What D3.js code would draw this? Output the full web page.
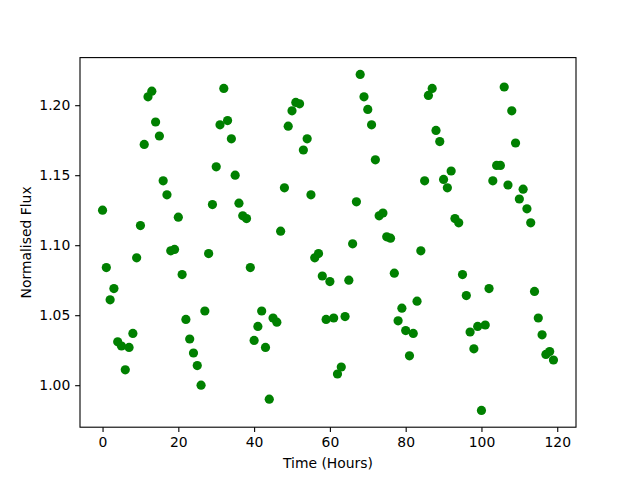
<!DOCTYPE html>
<html>
<head>
<meta charset="utf-8">
<script src="https://cdn.jsdelivr.net/npm/d3@7"></script>
<style>
  body { margin: 0; background: #fff; }
  text { font-family: "DejaVu Sans", sans-serif; }
</style>
</head>
<body>
<div id="chart"></div>
<script>
// hours 0..119, one reading per hour
const hours = d3.range(0, 120);
const flux = [
  1.125, 1.084, 1.061, 1.069, 1.031, 1.028, 1.011, 1.027, 1.037, 1.091,
  1.114, 1.172, 1.206, 1.210, 1.188, 1.178, 1.146, 1.136, 1.096, 1.097,
  1.120, 1.079, 1.047, 1.033, 1.023, 1.014, 1.000, 1.053, 1.094, 1.129,
  1.156, 1.186, 1.212, 1.189, 1.176, 1.150, 1.130, 1.121, 1.119, 1.084,
  1.032, 1.042, 1.053, 1.027, 0.990, 1.048, 1.045, 1.110, 1.141, 1.185,
  1.196, 1.202, 1.201, 1.168, 1.176, 1.136, 1.091, 1.094, 1.078, 1.047,
  1.074, 1.048, 1.008, 1.013, 1.049, 1.075, 1.101, 1.131, 1.222, 1.206,
  1.197, 1.186, 1.161, 1.121, 1.123, 1.106, 1.105, 1.080, 1.046, 1.055,
  1.039, 1.021, 1.037, 1.060, 1.096, 1.146, 1.207, 1.212, 1.182, 1.174,
  1.147, 1.141, 1.153, 1.119, 1.116, 1.079, 1.064, 1.038, 1.026, 1.042,
  0.982, 1.043, 1.069, 1.146, 1.157, 1.157, 1.213, 1.143, 1.196, 1.173,
  1.133, 1.140, 1.126, 1.116, 1.067, 1.048, 1.036, 1.022, 1.024, 1.018
];
const xTicks = [0, 20, 40, 60, 80, 100, 120];
const yTicks = [1.00, 1.05, 1.10, 1.15, 1.20];

const W = 640, H = 480;
const margin = { top: 57.6, right: 64, bottom: 52.8, left: 80 };
const width = W - margin.left - margin.right;
const height = H - margin.top - margin.bottom;

// matplotlib-like 5% padding on the data range
function padded(ext) {
  const p = (ext[1] - ext[0]) * 0.05;
  return [ext[0] - p, ext[1] + p];
}

const svg = d3.select('#chart').append('svg')
  .attr('width', W)
  .attr('height', H);

const g = svg.append('g')
  .attr('transform', `translate(${margin.left},${margin.top})`);

const x = d3.scaleLinear()
  .domain(padded(d3.extent(hours)))
  .range([0, width]);

const y = d3.scaleLinear()
  .domain(padded(d3.extent(flux)))
  .range([height, 0]);

const tickLen = 4.86;

const xAxis = g.append('g')
  .attr('transform', `translate(0,${height})`)
  .call(d3.axisBottom(x).tickValues(xTicks).tickFormat(d3.format('d'))
    .tickSize(tickLen).tickPadding(4.9));
xAxis.select('.domain').remove();

const yAxis = g.append('g')
  .call(d3.axisLeft(y).tickValues(yTicks).tickFormat(d3.format('.2f'))
    .tickSize(tickLen).tickPadding(4.9));
yAxis.select('.domain').remove();

[xAxis, yAxis].forEach(a => {
  a.selectAll('text').style('font-size', '13.9px').attr('fill', '#000');
  a.selectAll('line').attr('stroke', '#000').attr('stroke-width', 1.1);
});

// points
g.selectAll('circle.pt')
  .data(hours)
  .enter()
  .append('circle')
  .attr('class', 'pt')
  .attr('cx', (d, i) => x(d))
  .attr('cy', (d, i) => y(flux[i]))
  .attr('r', 4.6)
  .style('fill', 'green');

// frame
g.append('rect')
  .attr('width', width)
  .attr('height', height)
  .attr('fill', 'none')
  .attr('stroke', '#000')
  .attr('stroke-width', 1.1);

svg.append('text')
  .attr('x', margin.left + width / 2)
  .attr('y', 468)
  .attr('text-anchor', 'middle')
  .style('font-size', '13.9px')
  .text('Time (Hours)');

svg.append('text')
  .attr('transform', `translate(31,${margin.top + height / 2}) rotate(-90)`)
  .attr('text-anchor', 'middle')
  .style('font-size', '13.9px')
  .text('Normalised Flux');
</script>
</body>
</html>
